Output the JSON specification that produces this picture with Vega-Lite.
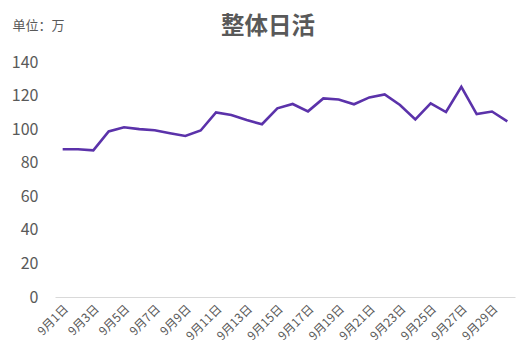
{
  "$schema": "https://vega.github.io/schema/vega-lite/v6.json",
  "autosize": "none",
  "width": 460,
  "height": 235,
  "padding": {"left": 55, "top": 62, "right": 1, "bottom": 61},
  "title": {"text": "整体日活", "fontSize": 23.5, "fontWeight": "bold", "color": "#595959", "anchor": "middle", "dx": -17, "dy": 43, "offset": 24, "font": "Noto Sans CJK SC"},
  "config": {"view": {"stroke": null}, "font": "Noto Sans CJK SC"},
  "data": {"values": [
    {"date": "9月1日", "v": 88.0},
    {"date": "9月2日", "v": 88.0},
    {"date": "9月3日", "v": 87.4},
    {"date": "9月4日", "v": 98.6},
    {"date": "9月5日", "v": 101.1},
    {"date": "9月6日", "v": 100.0},
    {"date": "9月7日", "v": 99.3},
    {"date": "9月8日", "v": 97.5},
    {"date": "9月9日", "v": 95.9},
    {"date": "9月10日", "v": 99.2},
    {"date": "9月11日", "v": 110.0},
    {"date": "9月12日", "v": 108.4},
    {"date": "9月13日", "v": 105.4},
    {"date": "9月14日", "v": 102.9},
    {"date": "9月15日", "v": 112.4},
    {"date": "9月16日", "v": 115.0},
    {"date": "9月17日", "v": 110.6},
    {"date": "9月18日", "v": 118.3},
    {"date": "9月19日", "v": 117.7},
    {"date": "9月20日", "v": 114.8},
    {"date": "9月21日", "v": 118.9},
    {"date": "9月22日", "v": 120.7},
    {"date": "9月23日", "v": 114.4},
    {"date": "9月24日", "v": 105.8},
    {"date": "9月25日", "v": 115.3},
    {"date": "9月26日", "v": 110.2},
    {"date": "9月27日", "v": 125.2},
    {"date": "9月28日", "v": 109.0},
    {"date": "9月29日", "v": 110.5},
    {"date": "9月30日", "v": 104.6}
  ]},
  "mark": {"type": "line", "color": "#5b32aa", "strokeWidth": 2.6},
  "encoding": {
    "x": {"field": "date", "type": "ordinal", "sort": null,
      "scale": {"type": "band", "paddingInner": 0, "paddingOuter": 0},
      "axis": {"title": null, "labelAngle": -45, "labelFontSize": 12, "labelColor": "#595959", "ticks": false, "domain": true, "domainColor": "#d9d9d9", "labelPadding": 6, "grid": false,
        "values": ["9月1日","9月3日","9月5日","9月7日","9月9日","9月11日","9月13日","9月15日","9月17日","9月19日","9月21日","9月23日","9月25日","9月27日","9月29日"]}},
    "y": {"field": "v", "type": "quantitative",
      "scale": {"domain": [0, 140], "nice": false},
      "axis": {"values": [0,20,40,60,80,100,120,140], "grid": false, "domain": false, "ticks": false, "labelFontSize": 16, "labelColor": "#595959", "labelPadding": 17,
        "title": "单位：万", "titleAngle": 0, "titleX": -43, "titleY": -33, "titleAlign": "left", "titleBaseline": "alphabetic", "titleFontSize": 13, "titleFontWeight": "normal", "titleColor": "#595959"}}
  }
}
